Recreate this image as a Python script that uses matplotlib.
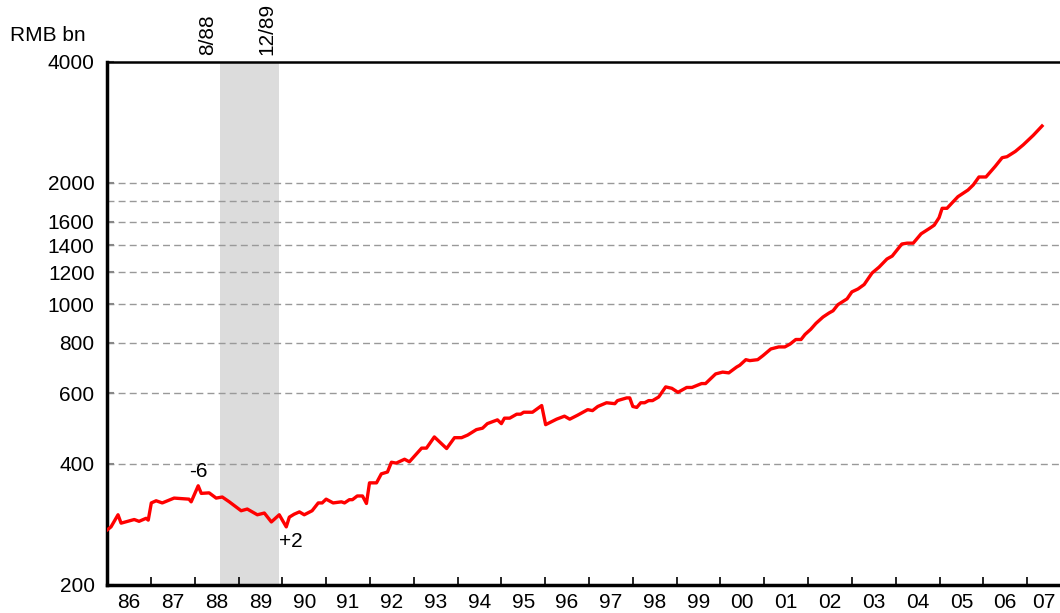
import matplotlib.pyplot as plt
import matplotlib.transforms as mtransforms

plt.rcParams['font.family'] = ['Liberation Sans', 'DejaVu Sans']

# money supply, RMB bn (decimal year, value)
dates = [
    1986.00, 1986.09, 1986.25, 1986.32, 1986.62, 1986.73, 1986.89, 1986.94,
    1987.01, 1987.12, 1987.26, 1987.53, 1987.87, 1987.92, 1988.08, 1988.15,
    1988.33, 1988.49, 1988.63, 1988.79, 1989.06, 1989.20, 1989.43, 1989.59,
    1989.75, 1989.93, 1990.09, 1990.16, 1990.27, 1990.39, 1990.50, 1990.68,
    1990.82, 1990.91, 1991.00, 1991.16, 1991.35, 1991.42, 1991.53, 1991.60,
    1991.71, 1991.83, 1991.92, 1991.99, 1992.15, 1992.26, 1992.40, 1992.49,
    1992.60, 1992.79, 1992.90, 1993.18, 1993.29, 1993.47, 1993.75, 1993.93,
    1994.09, 1994.23, 1994.43, 1994.57, 1994.68, 1994.91, 1995.00, 1995.07,
    1995.19, 1995.35, 1995.44, 1995.51, 1995.71, 1995.92, 1996.01, 1996.26,
    1996.44, 1996.56, 1996.74, 1996.97, 1997.08, 1997.20, 1997.40, 1997.59,
    1997.65, 1997.86, 1997.93, 1998.00, 1998.09, 1998.18, 1998.27, 1998.36,
    1998.45, 1998.59, 1998.75, 1998.89, 1999.03, 1999.23, 1999.35, 1999.46,
    1999.57, 1999.66, 1999.89, 2000.05, 2000.19, 2000.37, 2000.44, 2000.58,
    2000.67, 2000.85, 2000.97, 2001.15, 2001.33, 2001.47, 2001.59, 2001.72,
    2001.84, 2001.93, 2002.06, 2002.18, 2002.34, 2002.48, 2002.57, 2002.68,
    2002.89, 2003.00, 2003.14, 2003.28, 2003.46, 2003.62, 2003.80, 2003.92,
    2004.14, 2004.26, 2004.40, 2004.58, 2004.78, 2004.88, 2004.99, 2005.06,
    2005.17, 2005.42, 2005.65, 2005.77, 2005.90, 2006.06, 2006.27, 2006.43,
    2006.54, 2006.73, 2006.91, 2007.14, 2007.34,
]
values = [
    274, 279, 299, 285, 291, 288, 293, 290,
    320, 324, 320, 329, 327, 322, 353, 338,
    339, 329, 331, 322, 306, 309, 299, 302,
    287, 299, 279, 295, 300, 304, 299, 306,
    320, 320, 327, 320, 322, 320, 326, 326,
    333, 333, 319, 359, 359, 378, 382, 404,
    402, 411, 405, 438, 438, 467, 437, 465,
    465, 472, 487, 491, 504, 515, 504, 520,
    520, 532, 532, 538, 538, 559, 501, 517,
    526, 517, 529, 546, 543, 556, 568, 565,
    575, 584, 584, 556, 553, 568, 568, 575,
    575, 587, 622, 617, 603, 620, 620, 627,
    634, 634, 670, 677, 674, 697, 704, 727,
    723, 727, 744, 773, 782, 782, 795, 816,
    816, 840, 865, 895, 928, 950, 962, 996,
    1030, 1072, 1090, 1118, 1194, 1235, 1294, 1316,
    1410, 1417, 1417, 1495, 1544, 1571, 1640, 1730,
    1730, 1849, 1921, 1978, 2070, 2070, 2199, 2312,
    2325, 2396, 2488, 2628, 2772,
]

year_labels = ['86', '87', '88', '89', '90', '91', '92', '93', '94', '95', '96',
               '97', '98', '99', '00', '01', '02', '03', '04', '05', '06', '07']
first_year = 1986
x_end = 2007.75

ytick_vals = [200, 400, 600, 800, 1000, 1200, 1400, 1600, 2000, 4000]
grid_vals = [400, 600, 800, 1000, 1200, 1400, 1600, 1800, 2000]

shade_start, shade_end = 1988.58, 1989.92
shade_labels = ['8/88', '12/89']

fs = 15

fig = plt.figure(figsize=(10.6, 6.13), dpi=100)
ax = fig.add_axes([0.101, 0.0457, 0.899, 0.8532])

ax.set_yscale('log')
ax.set_ylim(200, 4000)
ax.set_xlim(first_year, x_end)

ax.axvspan(shade_start, shade_end, color='#dcdcdc', lw=0, zorder=0)
for g in grid_vals:
    ax.axhline(g, color='#999999', lw=1.0, ls=(0, (5, 3)), zorder=1)

ax.plot(dates, values, color='#ff0000', lw=2.4, zorder=3)

# y axis
ax.set_yticks(ytick_vals)
ax.set_yticklabels([str(v) for v in ytick_vals])
ax.yaxis.set_minor_locator(plt.NullLocator())
ax.tick_params(axis='y', direction='in', length=5, width=1.5, color='#888888',
               labelsize=fs, pad=9)

# x axis: ticks at year boundaries, labels centred on each year
n = len(year_labels)
ax.set_xticks([first_year + i for i in range(1, n)])
ax.set_xticklabels([])
label_pos = [first_year + i + 0.5 for i in range(n - 1)] + [(first_year + n - 1 + x_end) / 2]
ax.set_xticks(label_pos, minor=True)
ax.set_xticklabels(year_labels, minor=True)
ax.tick_params(axis='x', which='major', direction='in', length=6, width=1.2, color='black')
ax.tick_params(axis='x', which='minor', length=0, labelsize=fs, pad=6)

for side in ['left', 'bottom']:
    ax.spines[side].set_linewidth(2.5)
ax.spines['top'].set_linewidth(1.8)
ax.spines['right'].set_visible(False)

fig.text(0.009, 0.942, 'RMB bn', fontsize=fs, ha='left', va='center')

trans = mtransforms.blended_transform_factory(ax.transData, ax.transAxes)
for xpos, lab in zip([shade_start, shade_end], shade_labels):
    ax.annotate(lab, xy=(xpos, 1.0), xycoords=trans, xytext=(-12, 7),
                textcoords='offset pixels', rotation=90, ha='center', va='bottom',
                fontsize=fs, annotation_clip=False)

ax.annotate('-6', xy=(1988.08, 353), xytext=(0, 14), textcoords='offset pixels',
            ha='center', va='center', fontsize=fs)
ax.annotate('+2', xy=(1990.09, 279), xytext=(5, -15), textcoords='offset pixels',
            ha='center', va='center', fontsize=fs)

fig.savefig('out.png', dpi=100)
